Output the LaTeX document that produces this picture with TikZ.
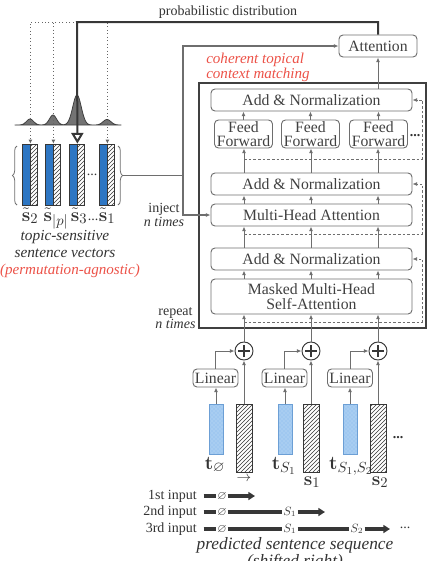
\documentclass[tikz,border=0pt]{standalone}
\usepackage{amssymb}
\usepackage[no-math]{fontspec}
\setmainfont{Liberation Serif}
\usetikzlibrary{shapes,arrows.meta,patterns,decorations.pathreplacing,calc}
\definecolor{vblue}{RGB}{45,118,195}
\definecolor{tblue}{RGB}{160,200,240}
\definecolor{tred}{RGB}{236,82,72}
\definecolor{lgray}{RGB}{110,110,110}
\definecolor{dgray}{RGB}{55,55,55}
\tikzstyle{blk}=[draw=lgray, rounded corners=3pt, text=black!75, font=\fontsize{11.8}{11}\selectfont, inner sep=0pt, align=center, line width=0.7pt]
\tikzstyle{wide}=[blk, minimum width=150.75pt, minimum height=16.5pt]
\tikzstyle{ff}=[blk, minimum width=43.5pt, minimum height=21pt]
\tikzstyle{lin}=[blk, minimum width=33.75pt, minimum height=13.5pt]
\tikzstyle{addc}=[circle, draw=dgray, line width=0.7pt, minimum size=13.5pt, inner sep=0pt, path picture={\draw[line width=0.8pt, dgray] (path picture bounding box.center) +(-4.5pt,0) -- +(4.5pt,0) +(0,-4.5pt) -- +(0,4.5pt);}]
\tikzstyle{uparr}=[draw=lgray, line width=0.7pt, -{Latex[length=3.5pt,width=3pt]}]
\tikzstyle{resid}=[draw=lgray, line width=0.6pt, dash pattern=on 2pt off 1.5pt, -{Latex[length=3.5pt,width=3pt]}]
\tikzstyle{feed}=[draw=lgray, line width=0.8pt, -{Latex[length=3.5pt,width=3pt]}]
\tikzstyle{feedline}=[draw=lgray, line width=0.8pt]
\tikzstyle{prob}=[draw=dgray, line width=1.5pt]
\tikzstyle{dotl}=[draw=black!60, dotted, line width=0.6pt, -{Latex[length=3pt,width=3pt]}]
\tikzstyle{outer}=[draw=black!75, line width=1.2pt]
\tikzstyle{brc}=[draw=lgray, line width=0.6pt, decorate, decoration={brace, amplitude=3.5pt}]
\tikzstyle{hbar}=[draw=dgray, line width=0.6pt, preaction={fill=white}, pattern=north east lines, pattern color=dgray, inner sep=0pt]
\tikzstyle{sbar}=[hbar, minimum width=12pt, minimum height=51pt]
\tikzstyle{vh}=[hbar, minimum width=5.6pt, minimum height=45.75pt]
\tikzstyle{vb}=[draw=dgray, fill=vblue, line width=0.6pt, inner sep=0pt, minimum width=5.6pt, minimum height=45.75pt]
\tikzstyle{tbar}=[draw=vblue!70, line width=0.5pt, preaction={fill=tblue}, pattern=crosshatch dots, pattern color=white!40!tblue, inner sep=0pt, minimum width=10.5pt, minimum height=37.5pt]
\tikzstyle{seq}=[draw=dgray, line width=2.3pt]
\tikzstyle{seqarr}=[seq, -{Triangle[length=5pt,width=6pt]}]
\tikzstyle{sym}=[text=black!75, font=\fontsize{9}{9}\selectfont, inner sep=0.6pt]
\tikzstyle{lbl}=[text=black!80, font=\fontsize{10.5}{10}\selectfont, inner sep=0pt, align=center]
\tikzstyle{redl}=[text=tred, font=\fontsize{11.3}{10}\selectfont\itshape, inner sep=0pt]
\tikzstyle{vecl}=[text=black!80, font=\fontsize{15}{15}\selectfont, inner sep=0pt, anchor=base]
\tikzstyle{bigl}=[text=black!80, font=\fontsize{15.5}{15}\selectfont, inner sep=0pt, anchor=base]

\begin{document}
\begin{tikzpicture}[x=0.75pt, y=-0.75pt]
\useasboundingbox (0, 0) rectangle (427, 561);

\draw (199, 83) rectangle (426, 328) [outer];

\draw (378, 46) node [blk, minimum width=58.5pt, minimum height=16.5pt] (attn) {Attention};
\draw (311.5, 100) node [wide] (an1) {Add \& Normalization};
\draw (243.5, 134) node [ff] (ffa) {Feed\\Forward};
\draw (310.5, 134) node [ff] (ffb) {Feed\\Forward};
\draw (378.5, 134) node [ff] (ffc) {Feed\\Forward};
\draw (415, 136) node [lbl] (ffdots) {\textbf{...}};
\draw (311.5, 184) node [wide] (an2) {Add \& Normalization};
\draw (311.5, 215) node [wide] (mha) {Multi-Head Attention};
\draw (311.5, 259) node [wide] (an3) {Add \& Normalization};
\draw (311.5, 296.5) node [wide, minimum height=26.25pt] (mmsa) {Masked Multi-Head\\Self-Attention};

\draw (206, 67) node [redl, anchor=west, align=left] (ctm) {coherent topical\\context matching};
\draw (164, 215) node [lbl] (inj) {inject\\\textit{n times}};
\draw (175.5, 318) node [lbl] (rep) {repeat\\\textit{n times}};

\draw (244, 351) node [addc] (pa) {};
\draw (311, 351) node [addc] (pb) {};
\draw (378, 351) node [addc] (pc) {};

\draw (215.5, 378) node [lin] (la) {Linear};
\draw (284.5, 378) node [lin] (lb) {Linear};
\draw (350, 378) node [lin] (lc) {Linear};

\draw (216, 429) node [tbar] (ta) {};
\draw (285, 429) node [tbar] (tb) {};
\draw (350, 429) node [tbar] (tc) {};
\draw (244, 438) node [sbar] (sa) {};
\draw (311, 438) node [sbar] (sb) {};
\draw (378, 438) node [sbar] (sc) {};
\draw (398, 438) node [lbl] (sdots) {\textbf{...}};

\draw (215, 469) node [bigl] (tla) {$\mathbf{t}_{\varnothing}$};
\draw (284, 469) node [bigl] (tlb) {$\mathbf{t}_{S_1}$};
\draw (351, 469) node [bigl] (tlc) {$\mathbf{t}_{S_1,S_2}$};
\draw (244, 479) node [lbl] (sla) {$\rightarrow$};
\draw (312, 485) node [bigl] (slb) {$\mathbf{s}_1$};
\draw (380, 485) node [bigl] (slc) {$\mathbf{s}_2$};

\draw (ffa.north) -- (ffa.north |- an1.south) [uparr];
\draw (ffb.north) -- (ffb.north |- an1.south) [uparr];
\draw (ffc.north) -- (ffc.north |- an1.south) [uparr];
\draw (an2.north -| pa) -- (ffa.south -| pa) [uparr];
\draw (an2.north -| pb) -- (ffb.south -| pb) [uparr];
\draw (an2.north -| pc) -- (ffc.south -| pc) [uparr];
\draw (mha.north -| pa) -- (an2.south -| pa) [uparr];
\draw (mha.north -| pb) -- (an2.south -| pb) [uparr];
\draw (mha.north -| pc) -- (an2.south -| pc) [uparr];
\draw (an3.north -| pa) -- (mha.south -| pa) [uparr];
\draw (an3.north -| pb) -- (mha.south -| pb) [uparr];
\draw (an3.north -| pc) -- (mha.south -| pc) [uparr];
\draw (mmsa.north -| pa) -- (an3.south -| pa) [uparr];
\draw (mmsa.north -| pb) -- (an3.south -| pb) [uparr];
\draw (mmsa.north -| pc) -- (an3.south -| pc) [uparr];
\draw (pa.north) -- (mmsa.south -| pa) [uparr];
\draw (pb.north) -- (mmsa.south -| pb) [uparr];
\draw (pc.north) -- (mmsa.south -| pc) [uparr];
\draw (an1.north -| attn) -- (attn.south) [uparr];

\draw (sa.north) -- (pa.south) [uparr];
\draw (sb.north) -- (pb.south) [uparr];
\draw (sc.north) -- (pc.south) [uparr];
\draw (ta.north) -- (ta.north |- la.south) [uparr];
\draw (tb.north) -- (tb.north |- lb.south) [uparr];
\draw (tc.north) -- (tc.north |- lc.south) [uparr];
\draw (la.north) |- (pa.west) [uparr];
\draw (lb.north) |- (pb.west) [uparr];
\draw (lc.north) |- (pc.west) [uparr];

\coordinate (ra) at (244, 159);
\coordinate (rb) at (244, 234);
\coordinate (rc) at (244, 322);
\draw (ra) -| ($(an1.east)+(10, 0)$) -- (an1.east) [resid];
\draw (rb) -| ($(an2.east)+(10, 0)$) -- (an2.east) [resid];
\draw (rc) -| ($(an3.east)+(10, 0)$) -- (an3.east) [resid];

\draw (26.25, 174.5) node [vb] (va) {};
\draw (33.75, 174.5) node [vh] (ha) {};
\draw (49.25, 174.5) node [vb] (vp) {};
\draw (56.75, 174.5) node [vh] (hp) {};
\draw (73.25, 174.5) node [vb] (vc) {};
\draw (80.75, 174.5) node [vh] (hc) {};
\draw (103.25, 174.5) node [vb] (vd) {};
\draw (110.75, 174.5) node [vh] (hd) {};
\draw (92, 175) node [lbl] (vdots) {...};
\draw [brc] (17, 205) -- (17, 146);
\draw [brc] (118, 146) -- (118, 205);

\draw (30, 221) node [vecl] (sl2) {$\tilde{\mathbf{s}}_2$};
\draw (56, 221) node [vecl] (slp) {$\tilde{\mathbf{s}}_{|p|}$};
\draw (79, 221) node [vecl] (sl3) {$\tilde{\mathbf{s}}_3$};
\draw (93, 220) node [lbl] (sldots) {...};
\draw (107, 221) node [vecl] (sl1) {$\tilde{\mathbf{s}}_1$};
\draw (65, 244) node [lbl, font=\fontsize{11.5}{12.5}\selectfont\itshape] (tsv) {topic-sensitive\\sentence vectors};
\draw (70, 271) node [redl] (pag) {(permutation-agnostic)};

\coordinate (brt) at (122, 175.5);
\coordinate (jn) at (183, 175.5);
\draw (brt) -- (jn) [feedline];
\draw (jn) |- (attn.west) [feed];
\draw (jn) |- (mha.west) [feed];

\draw [fill=black!55, draw=black!75, line width=0.6pt] (15, 125) -- plot [domain=15:121, samples=120] (\x, {125 - 6*exp(-((\x-30)/5)^2) - 10*exp(-((\x-53)/5)^2) - 30*exp(-((\x-77)/6)^2) - 5.5*exp(-((\x-107)/5.5)^2)}) -- (121, 125) -- cycle;

\coordinate (pd) at (77, 22);
\draw (pd) -| (va.north east) [dotl];
\draw (pd) -| (vp.north east) [dotl];
\draw (pd) -| (vd.north east) [dotl];
\draw (attn.north) |- (pd) -- (vc.north east) [prob, -{Triangle[open, fill=white, length=8pt, width=9pt]}];
\draw (228, 12) node [lbl] (pdist) {probabilistic distribution};

\draw (197, 496) node [lbl, anchor=east] (in1) {1st input};
\draw (197, 512) node [lbl, anchor=east] (in2) {2nd input};
\draw (197, 529) node [lbl, anchor=east] (in3) {3rd input};
\draw (222, 496) node [sym] (e1) {$\varnothing$};
\draw (222, 512) node [sym] (e2) {$\varnothing$};
\draw (222, 529) node [sym] (e3) {$\varnothing$};
\draw (290, 512) node [sym] (s21) {$S_1$};
\draw (290, 529) node [sym] (s31) {$S_1$};
\draw (357, 529) node [sym] (s32) {$S_2$};
\coordinate (q1) at (255, 496);
\coordinate (q2) at (325, 512);
\coordinate (q3) at (390, 529);
\draw (in1.east) -- (e1.west) [seq, shorten <=5pt];
\draw (in2.east) -- (e2.west) [seq, shorten <=5pt];
\draw (in3.east) -- (e3.west) [seq, shorten <=5pt];
\draw (e1.east) -- (q1) [seqarr];
\draw (e2.east) -- (s21.west) [seq];
\draw (s21.east) -- (q2) [seqarr];
\draw (e3.east) -- (s31.west) [seq];
\draw (s31.east) -- (s32.west) [seq];
\draw (s32.east) -- (q3) [seqarr];
\draw (405, 528) node [lbl] (qdots) {...};

\draw (295, 545) node [lbl, font=\fontsize{13}{13}\selectfont\itshape] (pss) {predicted sentence sequence};
\draw (295, 562) node [lbl, font=\fontsize{13}{13}\selectfont\itshape] (shr) {(shifted right)};
\end{tikzpicture}
\end{document}
